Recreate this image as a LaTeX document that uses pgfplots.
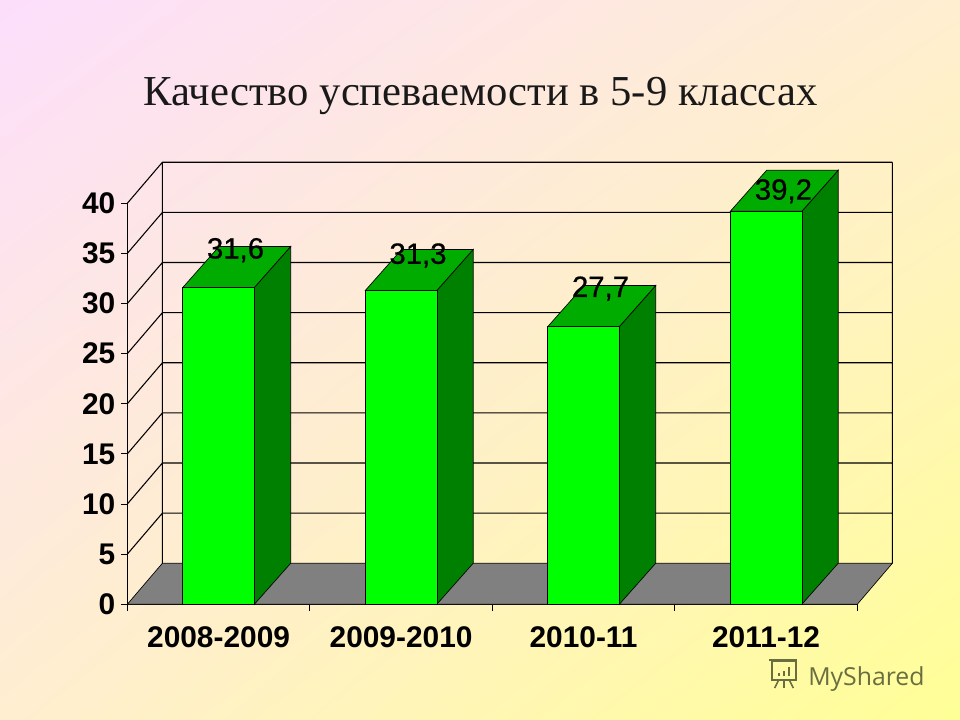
\documentclass[border=0pt]{standalone}
\usepackage{fontspec}
\setmainfont{Liberation Sans}
\newfontfamily\titlefont{Liberation Serif}
\newfontfamily\wmfont{Open Sans}
\newfontface\valfont{Liberation Sans}[FakeBold=0.6]
\usepackage{pgfplots}
\usetikzlibrary{shadings}
\pgfplotsset{compat=1.18}

\definecolor{bgtl}{RGB}{252,222,252}
\definecolor{bgmid}{RGB}{255,238,208}
\definecolor{bgbr}{RGB}{255,255,150}
\definecolor{barfront}{RGB}{0,255,0}
\definecolor{bartop}{RGB}{0,172,0}
\definecolor{barside}{RGB}{0,128,0}
\definecolor{wm}{RGB}{105,110,65}

\pgfplotsset{
  wall/.style={black,line width=0.8pt},
  front/.style n args={2}{ybar,bar width=53.7pt,fill=barfront,draw=black,line width=0.5pt,
    bar shift=0pt,
    nodes near coords,
    /pgf/number format/.cd,fixed,fixed zerofill,precision=1,use comma,assume math mode=true,
    /pgfplots/.cd,
    nodes near coords style={black,anchor=center,xshift=#1,yshift=#2,
      font=\valfont\fontsize{22}{24}\selectfont}},
  side/.style={fill=barside,draw=black,line width=0.5pt},
  top/.style={fill=bartop,draw=black,line width=0.5pt},
}

\begin{document}
\begin{tikzpicture}
\useasboundingbox (0,0) rectangle (720pt,540pt);
\shade[upper left=bgtl,upper right=bgmid,lower left=bgmid,lower right=bgbr]
  (0,0) rectangle (720pt,540pt);

\node[anchor=base,font=\titlefont\fontsize{32}{34}\selectfont,text=black!90] at (360.5pt,461pt)
  {Качество успеваемости в 5-9 классах};

\begin{axis}[
  at={(95.5pt,86.8pt)},anchor=south west,
  scale only axis,width=547.5pt,height=300.75pt,
  xmin=0,xmax=4,ymin=0,ymax=40,
  clip=false,
  axis lines=left,axis line style={-,line width=0.8pt},
  tick align=outside,
  xtick={0.5,1.5,2.5,3.5},
  xticklabels={2008-2009,2009-2010,2010-11,2011-12},
  minor xtick={0,1,2,3,4},
  major x tick style={draw=none},
  minor tick length=5pt,
  major tick length=4.5pt,
  tick style={black,line width=0.7pt},
  ytick={0,5,...,40},
  /pgf/number format/assume math mode=true,
  tick label style={font=\bfseries\fontsize{22.4}{24}\selectfont},
  xticklabel style={yshift=-9pt},
  yticklabel style={xshift=-1pt},
]
% floor and walls
\addplot[fill=gray,draw=black,line width=0.5pt] coordinates {(0,0)(0.192,4.09)(4.192,4.09)(4,0)} -- cycle;
\addplot[wall,unbounded coords=jump] coordinates {
  (0,5)(0.192,9.09)(4.192,9.09)(nan,nan)
  (0,10)(0.192,14.09)(4.192,14.09)(nan,nan)
  (0,15)(0.192,19.09)(4.192,19.09)(nan,nan)
  (0,20)(0.192,24.09)(4.192,24.09)(nan,nan)
  (0,25)(0.192,29.09)(4.192,29.09)(nan,nan)
  (0,30)(0.192,34.09)(4.192,34.09)(nan,nan)
  (0,35)(0.192,39.09)(4.192,39.09)(nan,nan)
  (0,40)(0.192,44.09)(4.192,44.09)(nan,nan)
  (0.192,4.09)(0.192,44.09)(nan,nan)
  (4.192,4.09)(4.192,44.09)
};

% 2008-2009
\addplot[side] coordinates {(0.696,0)(0.895,4.09)(0.895,35.69)(0.696,31.6)} -- cycle;
\addplot[top] coordinates {(0.304,31.6)(0.696,31.6)(0.895,35.69)(0.503,35.69)} -- cycle;
\addplot[front={12.7pt}{28pt}] coordinates {(0.5,31.6)};
% 2009-2010
\addplot[side] coordinates {(1.696,0)(1.895,4.09)(1.895,35.39)(1.696,31.3)} -- cycle;
\addplot[top] coordinates {(1.304,31.3)(1.696,31.3)(1.895,35.39)(1.503,35.39)} -- cycle;
\addplot[front={12.7pt}{26.3pt}] coordinates {(1.5,31.3)};
% 2010-11
\addplot[side] coordinates {(2.696,0)(2.895,4.09)(2.895,31.79)(2.696,27.7)} -- cycle;
\addplot[top] coordinates {(2.304,27.7)(2.696,27.7)(2.895,31.79)(2.503,31.79)} -- cycle;
\addplot[front={12.7pt}{28.5pt}] coordinates {(2.5,27.7)};
% 2011-12
\addplot[side] coordinates {(3.696,0)(3.895,4.09)(3.895,43.29)(3.696,39.2)} -- cycle;
\addplot[top] coordinates {(3.304,39.2)(3.696,39.2)(3.895,43.29)(3.503,43.29)} -- cycle;
\addplot[front={13pt}{15pt}] coordinates {(3.5,39.2)};
\end{axis}

% watermark
\node[anchor=base west,font=\wmfont\fontsize{18.6}{20}\selectfont,text=wm,inner sep=0pt] at (606pt,26pt) {MyShared};
\draw[wm,line width=1.2pt] (579pt,44pt) rectangle (597pt,30pt);
\draw[wm,line width=1.2pt] (577pt,45pt) -- (598pt,45pt);
\draw[wm,line width=1.2pt] (584pt,30pt) -- (581pt,24pt) (588pt,30pt) -- (588pt,24pt) (592pt,30pt) -- (595pt,24pt);
\draw[wm,line width=1.6pt] (584pt,33pt) -- (584pt,35pt) (588pt,33pt) -- (588pt,37pt) (592pt,33pt) -- (592pt,40pt);
\end{tikzpicture}
\end{document}
